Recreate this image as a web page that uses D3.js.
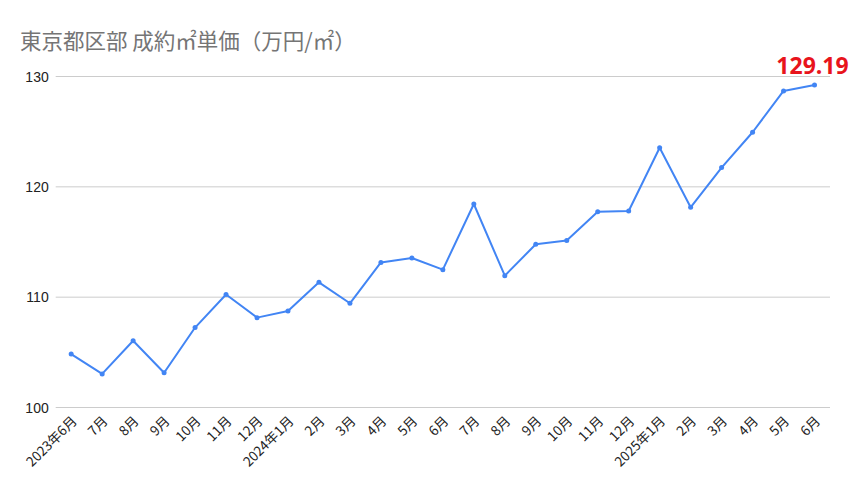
<!DOCTYPE html>
<html><head><meta charset="utf-8">
<script src="https://cdn.jsdelivr.net/npm/d3@7"></script>
<style>body{margin:0;background:#fff;}svg{display:block;}</style>
</head><body>
<svg id="chart" width="855" height="493"></svg>
<script>
const months = ["2023年6月","7月","8月","9月","10月","11月","12月","2024年1月","2月","3月","4月","5月","6月","7月","8月","9月","10月","11月","12月","2025年1月","2月","3月","4月","5月","6月"];
const values = [104.8,103.0,106.0,103.1,107.2,110.2,108.1,108.7,111.3,109.4,113.1,113.5,112.45,118.4,111.9,114.75,115.1,117.7,117.77,123.5,118.1,121.7,124.9,128.65,129.19];
const yTicks = [100,110,120,130];
const title = "東京都区部 成約㎡単価（万円/㎡）";
const annotation = "129.19";

(function(){
const svg = d3.select("#chart");
const font = "'Noto Sans CJK JP','Noto Sans',sans-serif";
const mLeft = 55.7, mRight = 830, mTop = 76, mBottom = 407;

const x = d3.scalePoint().domain(months.map((d,i)=>i)).range([mLeft,mRight]).padding(0.5);
const y = d3.scaleLinear().domain([100,130]).range([mBottom,mTop]);

svg.append("text").attr("x",20).attr("y",49).attr("font-family",font).attr("font-size",21.5)
  .attr("fill","#757575").text(title);

const yAxis = d3.axisLeft(y).tickValues(yTicks).tickSize(-(mRight-mLeft)).tickFormat(d3.format("d"));
const gy = svg.append("g").attr("transform",`translate(${mLeft},0)`).call(yAxis);
gy.select(".domain").remove();
gy.selectAll(".tick line").attr("stroke","#cccccc").attr("stroke-width",1);
gy.selectAll(".tick text").attr("x",-7).attr("dy","0.36em").attr("font-family","'Liberation Sans', Arial, sans-serif").attr("font-size",14).attr("fill","#222");

const xAxis = d3.axisBottom(x).tickSize(0).tickFormat(i=>months[i]);
const gx = svg.append("g").attr("transform",`translate(0,${mBottom})`).call(xAxis);
gx.select(".domain").remove();
gx.selectAll(".tick text")
  .attr("font-family",font).attr("font-size",13.5).attr("fill","#222")
  .attr("text-anchor","end").attr("dy",0).attr("y",0)
  .attr("transform","translate(6,15) rotate(-45)");

const line = d3.line().x((d,i)=>x(i)).y(d=>y(d));
svg.append("path").datum(values).attr("d",line).attr("fill","none")
  .attr("stroke","#4285F4").attr("stroke-width",2).attr("stroke-linejoin","round");
svg.selectAll("circle.pt").data(values).enter().append("circle").attr("class","pt")
  .attr("cx",(d,i)=>x(i)).attr("cy",d=>y(d)).attr("r",2.5).attr("fill","#4285F4");

const li = values.length-1;
svg.append("text").attr("x",x(li)-2).attr("y",y(values[li])-11).attr("text-anchor","middle")
  .attr("font-family","'Open Sans',sans-serif").attr("font-weight","bold").attr("font-size",23)
  .attr("fill","#e8141c").text(annotation);
})();
</script>
</body></html>
